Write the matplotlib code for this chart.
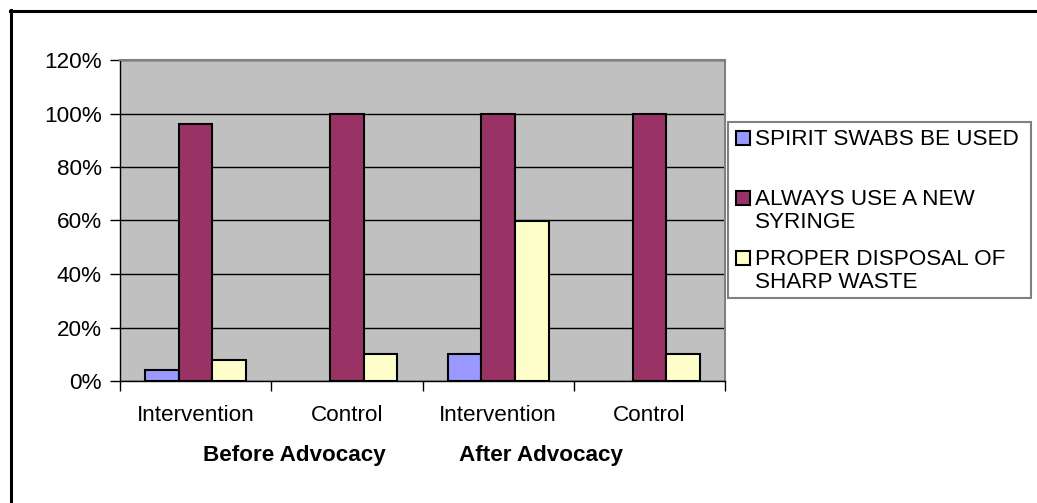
import matplotlib.pyplot as plt
from matplotlib.patches import Rectangle
from matplotlib.lines import Line2D
from matplotlib.ticker import PercentFormatter
import numpy as np

plt.rcParams['font.family'] = ['Liberation Sans', 'DejaVu Sans']

W, H = 1037, 503
FS = 16.2

categories = ['Intervention', 'Control', 'Intervention', 'Control']
groups = ['Before Advocacy', 'After Advocacy']
series = ['SPIRIT SWABS BE USED', 'ALWAYS USE A NEW\nSYRINGE', 'PROPER DISPOSAL OF\nSHARP WASTE']
spirit_swabs = [0.04, 0.0, 0.10, 0.0]
new_syringe = [0.96, 1.00, 1.00, 1.00]
sharp_waste = [0.08, 0.10, 0.60, 0.10]
colors = ['#9999FF', '#993366', '#FFFFCC']


def px(x, y):
    # pixel position (from top-left) -> figure fraction
    return x / W, 1 - y / H


fig = plt.figure(figsize=(W / 100, H / 100), dpi=100)
ax = fig.add_axes([120 / W, 1 - 381 / H, 605 / W, 321 / H])
ax.set_facecolor('#C0C0C0')

x = np.arange(len(categories))
bw = 1 / 4.5
for i, vals in enumerate([spirit_swabs, new_syringe, sharp_waste]):
    # zero values draw nothing, not even an outline
    lw = [1.5 if v > 0 else 0 for v in vals]
    ax.bar(x + (i - 1) * bw, vals, bw, color=colors[i], edgecolor='black',
           linewidth=lw, zorder=3)

ax.set_xlim(-0.5, len(categories) - 0.5)
ax.set_ylim(0, 1.2)
ax.set_yticks(np.arange(0, 1.21, 0.2))
ax.yaxis.set_major_formatter(PercentFormatter(1.0, decimals=0))
ax.yaxis.grid(True, color='black', linewidth=1)
ax.set_axisbelow(True)

ax.set_xticks(x)
ax.set_xticklabels(categories)
ax.set_xticks(np.arange(-0.5, len(categories)), minor=True)
ax.tick_params(axis='x', which='major', length=0, pad=17.5, labelsize=FS)
ax.tick_params(axis='x', which='minor', length=7, width=1, color='black')
ax.tick_params(axis='y', length=7, width=1, pad=6, labelsize=FS)

for s in ['top', 'right']:
    ax.spines[s].set_color('#808080')
    ax.spines[s].set_linewidth(1.5)
for s in ['left', 'bottom']:
    ax.spines[s].set_color('black')
    ax.spines[s].set_linewidth(1)

# group titles under the categories
fig.text(*px(294, 456), groups[0], ha='center', va='center',
         fontsize=FS, fontweight='bold')
fig.text(*px(541, 456), groups[1], ha='center', va='center',
         fontsize=FS, fontweight='bold')

# legend box
x0, y0 = px(728, 298)
x1, y1 = px(1031, 122)
fig.patches.append(Rectangle((x0, y0), x1 - x0, y1 - y0, transform=fig.transFigure,
                             facecolor='white', edgecolor='#808080', linewidth=1.5))
entry_y = [138, 198, 258]
for lab, col, yy in zip(series, colors, entry_y):
    sx, sy = px(736, yy + 7)
    fig.patches.append(Rectangle((sx, sy), 14 / W, 14 / H, transform=fig.transFigure,
                                 facecolor=col, edgecolor='black', linewidth=1.5))
    fig.text(*px(755, yy - 9), lab, ha='left', va='top', fontsize=FS,
             linespacing=1.15)

# outer chart border (cut off at right and bottom)
fig.lines.append(Line2D([10 / W, 1.0], [1 - 11 / H, 1 - 11 / H], transform=fig.transFigure,
                        color='black', linewidth=2.2))
fig.lines.append(Line2D([11 / W, 11 / W], [0.0, 1 - 10 / H], transform=fig.transFigure,
                        color='black', linewidth=2.2))

fig.savefig('out.png', dpi=100)
